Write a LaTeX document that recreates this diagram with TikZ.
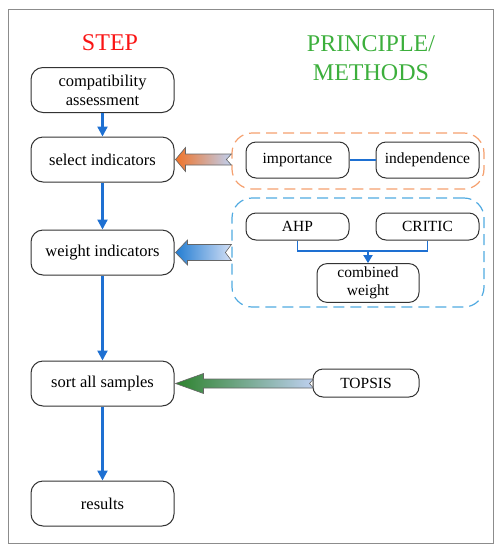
\documentclass[tikz,border=0pt]{standalone}
\usepackage{fontspec}
\setmainfont{Liberation Serif}
\usetikzlibrary{calc,arrows.meta}
\definecolor{flowblue}{RGB}{30,112,210}
\definecolor{steprd}{RGB}{250,20,20}
\definecolor{prgreen}{RGB}{60,175,60}
\definecolor{orgdash}{RGB}{245,160,110}
\definecolor{bludash}{RGB}{80,170,225}
\definecolor{orgarr}{RGB}{240,115,40}
\definecolor{bluarr}{RGB}{35,125,210}
\definecolor{grnarr}{RGB}{45,130,45}
\definecolor{paleblue}{RGB}{190,208,240}
\tikzset{
  stepbox/.style={draw=black!80, line width=1pt, rounded corners=12pt, fill=white,
    minimum width=143pt, minimum height=45pt, align=center,
    font=\fontsize{16.5}{19}\selectfont},
  methbox/.style={draw=black!80, line width=1pt, rounded corners=10pt, fill=white,
    minimum width=103pt, align=center, font=\fontsize{15.5}{18}\selectfont},
  flow/.style={draw=flowblue, line width=2.2pt, -{Triangle[length=10pt,width=10pt]}},
  link/.style={draw=flowblue, line width=1.8pt},
  groupbox/.style={line width=1.2pt, dash pattern=on 11pt off 6pt, rounded corners=20pt},
  blockarr/.style={draw=black!60, line width=0.6pt},
}
\begin{document}
\begin{tikzpicture}[x=1pt,y=-1pt]
\useasboundingbox (0,0) rectangle (501,550);
\draw[black!45, line width=0.8pt] (8,9) rectangle (493,543);

\node[text=steprd, font=\fontsize{24}{28}\selectfont] (steptitle) at (110,43) {STEP};
\node[text=prgreen, font=\fontsize{24}{29}\selectfont, align=center] (prtitle) at (371,58) {PRINCIPLE/\\METHODS};

\node[stepbox] (comp) at (102.5,90) {compatibility\\assessment};
\node[stepbox] (sel) at (102.5,159.5) {select indicators};
\node[stepbox] (wgt) at (102.5,252.5) {weight indicators};
\node[stepbox] (sort) at (102.5,383.5) {sort all samples};
\node[stepbox] (res) at (102.5,503.5) {results};

\draw[flow] (comp) -- (sel);
\draw[flow] (sel) -- (wgt);
\draw[flow] (wgt) -- (sort);
\draw[flow] (sort) -- (res);

% orange group
\node[groupbox, draw=orgdash, minimum width=252pt, minimum height=56pt] (orggrp) at (358,161) {};
\node[methbox, minimum height=36pt] (imp) at (297.5,160) {importance};
\node[methbox, minimum height=36pt] (ind) at (427.5,160) {independence};
\draw[link] (imp) -- (ind);

% blue group
\node[groupbox, draw=bludash, minimum width=252pt, minimum height=109pt] (blugrp) at (358,252.5) {};
\node[methbox, minimum height=27pt] (ahp) at (297.5,226.5) {AHP};
\node[methbox, minimum height=27pt] (crit) at (427.5,226.5) {CRITIC};
\node[methbox, minimum width=102pt, minimum height=38pt] (comb) at (368,283) {combined\\weight};
\coordinate (join) at (368,251);
\draw[link] (ahp.south) |- (join) -| (crit.south);
\draw[link, -{Triangle[length=8pt,width=9pt]}] (join) -- (comb.north);

\node[methbox, minimum width=106pt, minimum height=28pt] (top) at (366,383) {TOPSIS};

% block arrows
\path[blockarr, left color=orgarr, right color=paleblue]
  let \p1=(sel.east), \p2=(orggrp.west) in
  (\x1+1,\y1) -- (\x1+11,\y1-12) -- (\x1+11,\y1-5.5) -- (\x2,\y1-5.5)
  -- (\x2-5,\y1) -- (\x2,\y1+5.5) -- (\x1+11,\y1+5.5) -- (\x1+11,\y1+12) -- cycle;
\path[blockarr, left color=bluarr, right color=paleblue!70!white]
  let \p1=(wgt.east), \p2=(blugrp.west) in
  (\x1+1,\y1) -- (\x1+13,\y1-12.5) -- (\x1+13,\y1-8) -- (\x2,\y1-8)
  -- (\x2-6,\y1) -- (\x2,\y1+8) -- (\x1+13,\y1+8) -- (\x1+13,\y1+12.5) -- cycle;
\path[blockarr, left color=grnarr, right color=paleblue]
  let \p1=(sort.east), \p2=(top.west) in
  (\x1+1,\y1) -- (\x1+29,\y1-10) -- (\x1+29,\y1-4.5) -- (\x2+1,\y1-4.5)
  -- (\x2-3,\y1) -- (\x2+1,\y1+4.5) -- (\x1+29,\y1+4.5) -- (\x1+29,\y1+10) -- cycle;
\end{tikzpicture}
\end{document}
